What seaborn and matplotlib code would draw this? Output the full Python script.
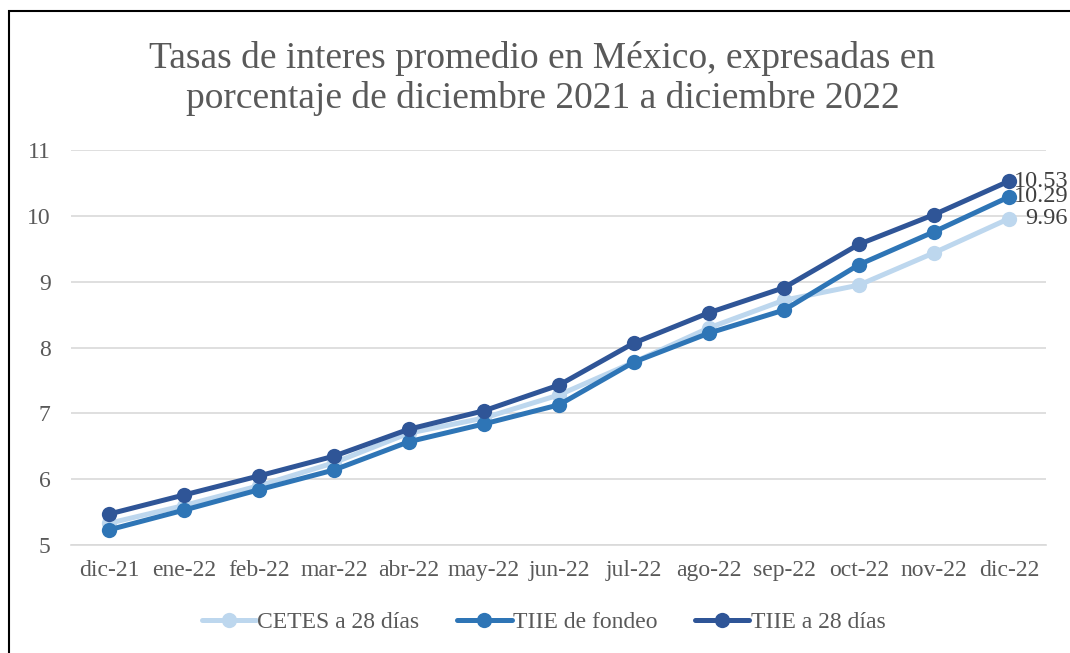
import numpy as np
import pandas as pd
import matplotlib
matplotlib.use('Agg')
import matplotlib.pyplot as plt
import seaborn as sns
from matplotlib.patches import Rectangle

meses = ['dic-21', 'ene-22', 'feb-22', 'mar-22', 'abr-22', 'may-22', 'jun-22',
         'jul-22', 'ago-22', 'sep-22', 'oct-22', 'nov-22', 'dic-22']
cetes_28 = [5.33, 5.60, 5.90, 6.25, 6.70, 6.93, 7.28, 7.78, 8.30, 8.72, 8.95, 9.44, 9.96]
tiie_fondeo = [5.23, 5.53, 5.84, 6.14, 6.57, 6.84, 7.13, 7.78, 8.22, 8.57, 9.26, 9.76, 10.29]
tiie_28 = [5.47, 5.76, 6.05, 6.35, 6.76, 7.04, 7.43, 8.07, 8.53, 8.91, 9.57, 10.02, 10.53]

series = ['CETES a 28 días', 'TIIE de fondeo', 'TIIE a 28 días']
colores = ['#BDD7EE', '#2E75B6', '#2F5597']

df = pd.DataFrame({
    'pos': list(range(len(meses))) * 3,
    'valor': cetes_28 + tiie_fondeo + tiie_28,
    'serie': [s for s in series for _ in meses],
})

sns.set_style('white')
plt.rcParams['font.family'] = ['Liberation Serif', 'DejaVu Serif']

fig = plt.figure(figsize=(10.7, 6.53), dpi=100)
ax = fig.add_axes([0.0668, 0.1654, 0.9112, 0.6046])

sns.lineplot(data=df, x='pos', y='valor', hue='serie', hue_order=series,
             palette=colores, marker='o', markersize=11, markeredgewidth=0,
             linewidth=3.6, ax=ax, legend=False)

# etiquetas del ultimo punto, alineadas al borde derecho como en Excel
for vals in [cetes_28, tiie_fondeo, tiie_28]:
    ax.annotate(f'{vals[-1]:.2f}', (len(meses) - 1, vals[-1]), xytext=(42.5, 0),
                textcoords='offset points', ha='right', va='center',
                fontsize=17.5, color='#404040')

ax.set_xlim(-0.5, len(meses) - 0.5)
ax.set_ylim(5, 11)
ax.set_yticks(range(5, 12))
ax.set_xticks(range(len(meses)))
ax.set_xticklabels(meses)
ax.set_xticks(np.arange(-0.5, len(meses)), minor=True)
ax.tick_params(axis='x', which='major', length=0, pad=11, labelsize=17, labelcolor='#595959')
ax.tick_params(axis='x', which='minor', length=6, width=1.2, color='#d9d9d9', direction='out')
ax.tick_params(axis='y', length=0, pad=15, labelsize=17, labelcolor='#595959')
ax.set_xlabel('')
ax.set_ylabel('')
ax.grid(axis='y', color='#d9d9d9', linewidth=1.2)
for s in ['top', 'right', 'left']:
    ax.spines[s].set_visible(False)
ax.spines['bottom'].set_color('#d9d9d9')
ax.spines['bottom'].set_linewidth(1.2)

fig.text(0.507, 0.88, 'Tasas de interes promedio en México, expresadas en\n'
         'porcentaje de diciembre 2021 a diciembre 2022',
         ha='center', va='center', fontsize=27, color='#595959', linespacing=1.2)

handles = [plt.Line2D([], [], color=c, marker='o', markersize=11, linewidth=3.6,
                      markeredgewidth=0) for c in colores]
fig.legend(handles, series, loc='center', bbox_to_anchor=(0.508, 0.047), ncol=3,
           frameon=False, fontsize=17, labelcolor='#595959', handlelength=2.3,
           handletextpad=0.05, columnspacing=1.6)

fig.patches.append(Rectangle((9, -20), 1100, 662, transform=None, fill=False,
                             edgecolor='black', linewidth=1.5, figure=fig))

fig.savefig('out.png', dpi=100)
